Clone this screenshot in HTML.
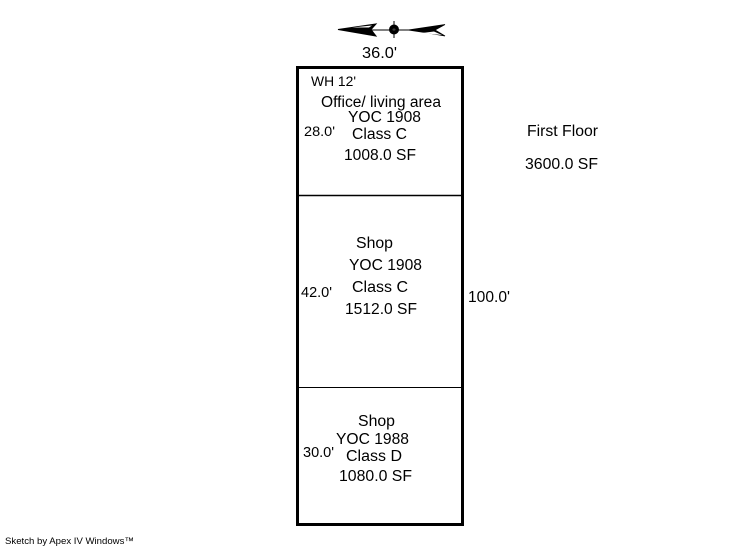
<!DOCTYPE html>
<html>
<head>
<meta charset="utf-8">
<style>
html,body{margin:0;padding:0;background:#fff;}
svg{display:block;}
text{font-family:"Liberation Sans",Arial,sans-serif;fill:#000;font-size:15.5px;}
</style>
</head>
<body>
<svg width="746" height="547" viewBox="0 0 746 547" xmlns="http://www.w3.org/2000/svg">
<rect x="0" y="0" width="746" height="547" fill="#fff"/>
<!-- compass -->
<line x1="370" y1="30" x2="410" y2="30" stroke="#000" stroke-width="1"/>
<polygon points="338,29.5 376,24 371,29.5 376,36" fill="#000" stroke="#000" stroke-width="1"/>
<polygon points="352,27.5 372,25.5 369,27.5" fill="#fff"/>
<polygon points="408,30 445,24.5 435,30 445,36 428,33" fill="#000" stroke="#000" stroke-width="0.8"/>
<polygon points="422,33 434,31.5 442,35" fill="#fff"/>
<circle cx="394" cy="29.5" r="5" fill="#000"/>
<circle cx="394" cy="29.5" r="1.3" fill="#777"/>
<line x1="394" y1="21" x2="394" y2="38" stroke="#000" stroke-width="1"/>
<!-- building -->
<rect x="297.5" y="67.5" width="165" height="457" fill="none" stroke="#000" stroke-width="3"/>
<line x1="298" y1="195.5" x2="462" y2="195.5" stroke="#000" stroke-width="1.5"/>
<line x1="298" y1="387.5" x2="462" y2="387.5" stroke="#000" stroke-width="1"/>
<!-- labels -->
<text x="362" y="58" textLength="35" lengthAdjust="spacingAndGlyphs">36.0'</text>
<text x="311" y="86" style="font-size:13.5px" textLength="45" lengthAdjust="spacingAndGlyphs">WH 12'</text>
<text x="321" y="107" textLength="120" lengthAdjust="spacingAndGlyphs">Office/ living area</text>
<text x="348" y="122" textLength="73" lengthAdjust="spacingAndGlyphs">YOC 1908</text>
<text x="304" y="136" style="font-size:14px" textLength="31" lengthAdjust="spacingAndGlyphs">28.0'</text>
<text x="352" y="139" textLength="55" lengthAdjust="spacingAndGlyphs">Class C</text>
<text x="344" y="160" textLength="72" lengthAdjust="spacingAndGlyphs">1008.0 SF</text>
<text x="527" y="136" textLength="71" lengthAdjust="spacingAndGlyphs">First Floor</text>
<text x="525" y="169" textLength="73" lengthAdjust="spacingAndGlyphs">3600.0 SF</text>
<text x="356" y="248" textLength="37" lengthAdjust="spacingAndGlyphs">Shop</text>
<text x="349" y="270" textLength="73" lengthAdjust="spacingAndGlyphs">YOC 1908</text>
<text x="352" y="292" textLength="56" lengthAdjust="spacingAndGlyphs">Class C</text>
<text x="345" y="314" textLength="72" lengthAdjust="spacingAndGlyphs">1512.0 SF</text>
<text x="301" y="297" style="font-size:14.5px" textLength="31" lengthAdjust="spacingAndGlyphs">42.0'</text>
<text x="468" y="302" textLength="42" lengthAdjust="spacingAndGlyphs">100.0'</text>
<text x="358" y="426" textLength="37" lengthAdjust="spacingAndGlyphs">Shop</text>
<text x="336" y="444" textLength="73" lengthAdjust="spacingAndGlyphs">YOC 1988</text>
<text x="346" y="461" textLength="56" lengthAdjust="spacingAndGlyphs">Class D</text>
<text x="339" y="481" textLength="73" lengthAdjust="spacingAndGlyphs">1080.0 SF</text>
<text x="303" y="457" style="font-size:14.5px" textLength="31" lengthAdjust="spacingAndGlyphs">30.0'</text>
<text x="5" y="544" style="font-size:9.5px" textLength="129" lengthAdjust="spacingAndGlyphs">Sketch by Apex IV Windows™</text>
</svg>
</body>
</html>
